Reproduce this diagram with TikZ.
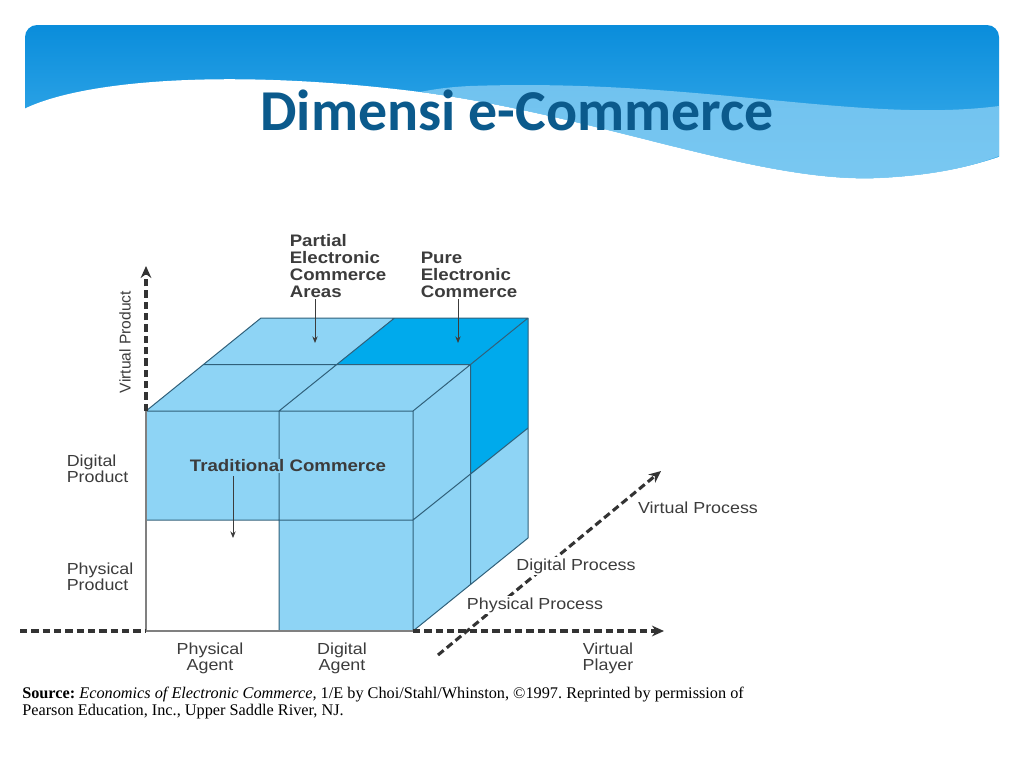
\documentclass[tikz,border=0pt]{standalone}
\usepackage{fontspec}
\setmainfont{Liberation Sans}
\newfontfamily\titlefont{Carlito}
\newfontfamily\srcfont{Liberation Serif}
\usetikzlibrary{arrows.meta}
\definecolor{bannertop}{HTML}{0A8DDB}
\definecolor{bannerbot}{HTML}{47B4EE}
\definecolor{bandlight}{HTML}{8CD0F4}
\definecolor{titleblue}{HTML}{0B5A8C}
\definecolor{cubelight}{HTML}{8ED4F5}
\definecolor{cubedark}{HTML}{00AAEC}
\definecolor{edgecol}{HTML}{30607A}
\definecolor{txtcol}{HTML}{3C3C3C}
\frenchspacing
\tikzset{
  cubeline/.style={draw=edgecol, line width=0.75pt},
  axis/.style={draw=black!80, line width=2.3pt, dash pattern=on 5.5pt off 3pt},
  lbl/.style={text=txtcol, align=center, inner sep=1pt, xscale=1.117, font=\fontsize{12}{12}\selectfont},
  note/.style={text=txtcol, inner sep=1pt, xscale=1.12, font=\fontsize{12.5}{12.75}\selectfont\bfseries, align=left},
  pointer/.style={-{Stealth[length=5pt,width=4pt]}, draw=txtcol, line width=0.7pt},
}
\begin{document}
\begin{tikzpicture}[x=0.75pt, y=-0.75pt, line join=round, >={Stealth[length=9pt,width=8pt]}]
\useasboundingbox (0,0) rectangle (1024,768);
\shade[top color=bannertop, bottom color=bannerbot, rounded corners=9pt] (25,25) rectangle (999,190);
\fill[white] (22,110) .. controls (80,80) and (230,68) .. (420,92) .. controls (600,116) and (760,184) .. (880,178) .. controls (940,175) and (975,165) .. (1002,156) -- (1002,195) -- (22,195) -- cycle;
\fill[bandlight, opacity=.75] (420,92) .. controls (600,116) and (760,184) .. (880,178) .. controls (940,175) and (975,165) .. (999,156) -- (999,106) .. controls (860,124) and (700,78) .. (470,86) .. controls (450,87) and (435,89) .. (420,92) -- cycle;
\node[font=\titlefont\bfseries\fontsize{43.4}{50}\selectfont, text=titleblue] (title) at (517,110) {Dimensi e-Commerce};
\coordinate (f1) at (146,411); \coordinate (f2) at (413,411);
\coordinate (f3) at (413,631); \coordinate (f4) at (146,631);
\coordinate (b1) at (261,318); \coordinate (b2) at (528,318); \coordinate (b3) at (528,538);
\coordinate (fm) at (279,411); \coordinate (fmb) at (279,631);
\coordinate (fl) at (146,520); \coordinate (fr) at (413,520);
\coordinate (tm1) at (203.5,364.5); \coordinate (tm2) at (470.5,364.5); \coordinate (tmc) at (336.5,364.5);
\coordinate (bm) at (394.5,318); \coordinate (rm) at (470.5,584.5);
\coordinate (rb) at (528,428); \coordinate (rc) at (470.5,474.5);
\fill[cubelight] (f1) rectangle (fr);
\fill[cubelight] (279,520) rectangle (f3);
\fill[cubelight] (f1) -- (f2) -- (b2) -- (b1) -- cycle;
\fill[cubedark] (tmc) -- (tm2) -- (b2) -- (bm) -- cycle;
\fill[cubelight] (f2) -- (b2) -- (b3) -- (f3) -- cycle;
\fill[cubedark] (tm2) -- (b2) -- (rb) -- (rc) -- cycle;
\draw[cubeline] (f1) -- (f2) -- (f3) (f1) -- (b1) -- (b2) -- (f2) (b2) -- (b3) -- (f3) (fl) -- (fr) -- (rb) (fm) -- (fmb) (fm) -- (bm) (tm1) -- (tm2) -- (rm);
\draw[draw=gray, line width=0.8pt] (f1) -- (f4) -- (f3);
\coordinate (hstart) at (20,631); \coordinate (hend) at (664,631);
\coordinate (vend) at (146,266);
\coordinate (dstart) at (438,655); \coordinate (dend) at (661,471);
\draw[axis] (hstart) -- (f4);
\draw[axis,->] (f3) -- (hend);
\draw[axis,->] (f1) -- (vend);
\draw[axis,->] (dstart) -- (dend);
\node[text=txtcol, inner sep=1pt, font=\fontsize{11.7}{12}\selectfont, rotate=90] (vprod) at (125,342) {Virtual Product};
\node[lbl, align=left, anchor=west] (dprod) at (65,469) {Digital\\Product};
\node[lbl, align=left, anchor=west] (pprod) at (65,577) {Physical\\Product};
\node[lbl] (pagent) at (210,658) {Physical\\Agent};
\node[lbl] (dagent) at (342,658) {Digital\\Agent};
\node[lbl] (vplayer) at (608,658) {Virtual\\Player};
\node[lbl, fill=white] (pproc) at (535,605) {Physical Process};
\node[lbl, fill=white] (dproc) at (576,566) {Digital Process};
\node[lbl] (vproc) at (698,508) {Virtual Process};
\node[note, fill=cubelight, align=center] (trad) at (288,466) {Traditional Commerce};
\node[note, anchor=north west] (partial) at (288,233) {Partial\\Electronic\\Commerce\\Areas};
\node[note, anchor=north west] (pure) at (419,250) {Pure\\Electronic\\Commerce};
\coordinate (tradtip) at (233,538); \coordinate (partialtip) at (315,343); \coordinate (puretip) at (458,343);
\draw[pointer] ([yshift=-2pt]tradtip |- trad.south) -- (tradtip);
\draw[pointer] (partialtip |- partial.south) -- (partialtip);
\draw[pointer] (puretip |- partial.south) -- (puretip);
\node[anchor=north west, align=left, inner sep=0pt, font=\srcfont\fontsize{12.2}{12.75}\selectfont] (src) at (22,687) {\textbf{Source:} \textit{Economics of Electronic Commerce,} 1/E by Choi/Stahl/Whinston, ©1997. Reprinted by permission of\\Pearson Education, Inc., Upper Saddle River, NJ.};
\end{tikzpicture}
\end{document}
